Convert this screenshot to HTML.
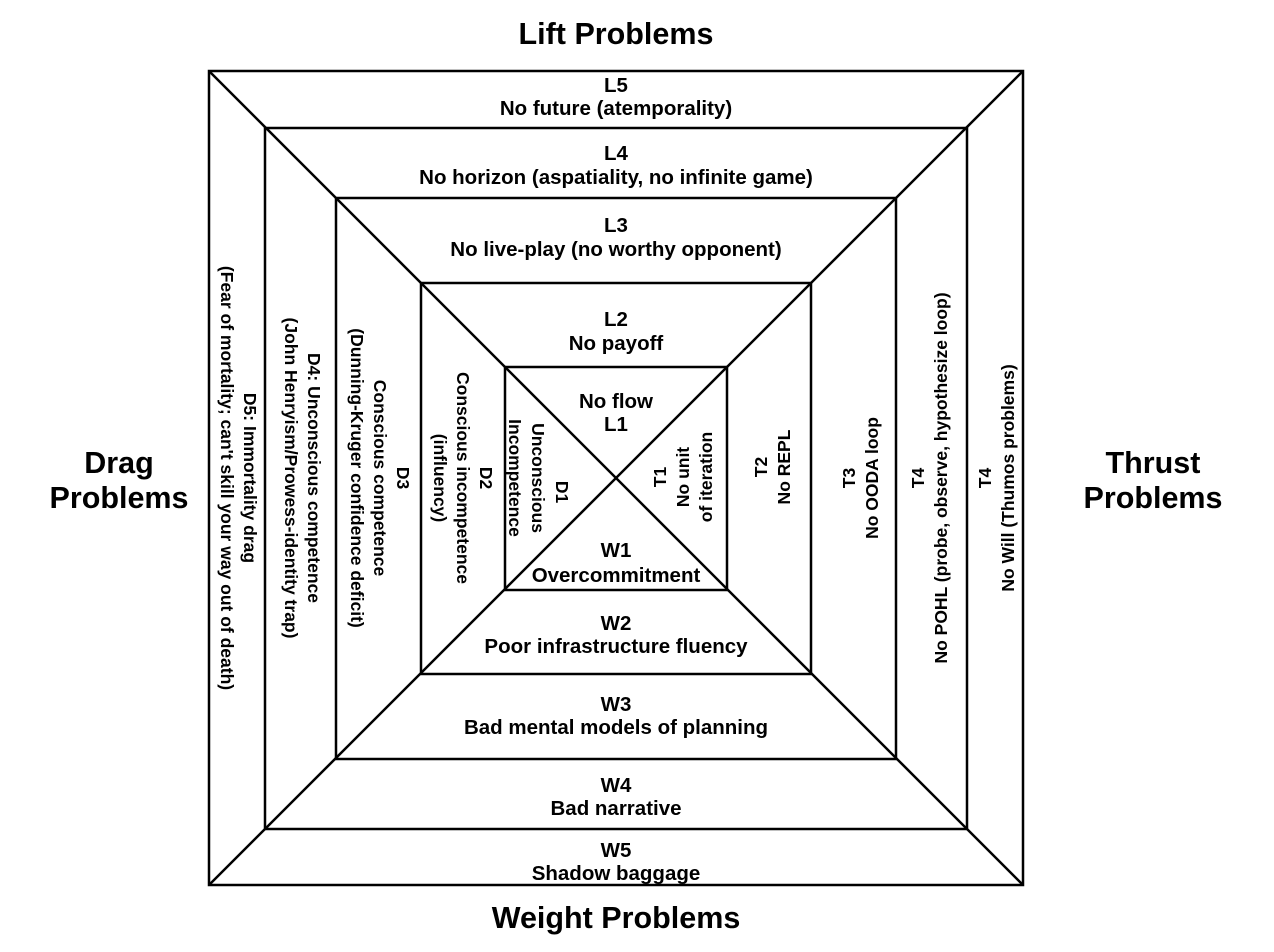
<!DOCTYPE html>
<html><head><style>
body{margin:0;background:#fff;width:1274px;height:947px;overflow:hidden}
svg text{font-family:"Liberation Sans",Arial,sans-serif;font-weight:bold;font-size:20.5px;fill:#000;text-anchor:middle}
svg g text{font-size:17.5px}
.big{font-size:30.5px}
</style></head><body>
<svg width="1274" height="947" viewBox="0 0 1274 947">
<g fill="none" stroke="#000" stroke-width="2.5">
<rect x="209" y="71" width="814" height="814"/>
<rect x="265" y="128" width="702" height="701"/>
<rect x="336" y="198" width="560" height="561"/>
<rect x="421" y="283" width="390" height="391"/>
<rect x="505" y="367" width="222" height="223"/>
<line x1="209" y1="71" x2="1023" y2="885"/>
<line x1="1023" y1="71" x2="209" y2="885"/>
</g>
<text class="big" x="616" y="44">Lift Problems</text>
<text class="big" x="616" y="928">Weight Problems</text>
<text class="big" x="119" y="473">Drag</text>
<text class="big" x="119" y="508">Problems</text>
<text class="big" x="1153" y="473">Thrust</text>
<text class="big" x="1153" y="508">Problems</text>

<text x="616" y="92">L5</text><text x="616" y="115">No future (atemporality)</text>
<text x="616" y="160">L4</text><text x="616" y="184">No horizon (aspatiality, no infinite game)</text>
<text x="616" y="232">L3</text><text x="616" y="256">No live-play (no worthy opponent)</text>
<text x="616" y="326">L2</text><text x="616" y="350">No payoff</text>
<text x="616" y="408">No flow</text><text x="616" y="431">L1</text>
<text x="616" y="557">W1</text><text x="616" y="582">Overcommitment</text>
<text x="616" y="630">W2</text><text x="616" y="653">Poor infrastructure fluency</text>
<text x="616" y="711">W3</text><text x="616" y="734">Bad mental models of planning</text>
<text x="616" y="792">W4</text><text x="616" y="815">Bad narrative</text>
<text x="616" y="857">W5</text><text x="616" y="880">Shadow baggage</text>

<g transform="translate(241,478) rotate(90)"><text x="0" y="-3">D5: Immortality drag</text><text x="0" y="20">(Fear of mortality; can't skill your way out of death)</text></g>
<g transform="translate(305,478) rotate(90)"><text x="0" y="-3">D4: Unconscious competence</text><text x="0" y="20">(John Henryism/Prowess-identity trap)</text></g>
<g transform="translate(380,478) rotate(90)"><text x="0" y="-17">D3</text><text x="0" y="6">Conscious competence</text><text x="0" y="29">(Dunning-Kruger confidence deficit)</text></g>
<g transform="translate(463,478) rotate(90)"><text x="0" y="-17">D2</text><text x="0" y="6">Conscious incompetence</text><text x="0" y="29">(influency)</text></g>
<g transform="translate(562,492) rotate(90)"><text x="0" y="6">D1</text></g>
<g transform="translate(527,478) rotate(90)"><text x="0" y="-5">Unconscious</text><text x="0" y="18">Incompetence</text></g>

<g transform="translate(683,477) rotate(-90)"><text x="0" y="-17">T1</text><text x="0" y="6">No unit</text><text x="0" y="29">of iteration</text></g>
<g transform="translate(772,467) rotate(-90)"><text x="0" y="-5">T2</text><text x="0" y="18">No REPL</text></g>
<g transform="translate(860,478) rotate(-90)"><text x="0" y="-5">T3</text><text x="0" y="18">No OODA loop</text></g>
<g transform="translate(929,478) rotate(-90)"><text x="0" y="-5">T4</text><text x="0" y="18">No POHL (probe, observe, hypothesize loop)</text></g>
<g transform="translate(996,478) rotate(-90)"><text x="0" y="-5">T4</text><text x="0" y="18">No Will (Thumos problems)</text></g>
</svg>
</body></html>
